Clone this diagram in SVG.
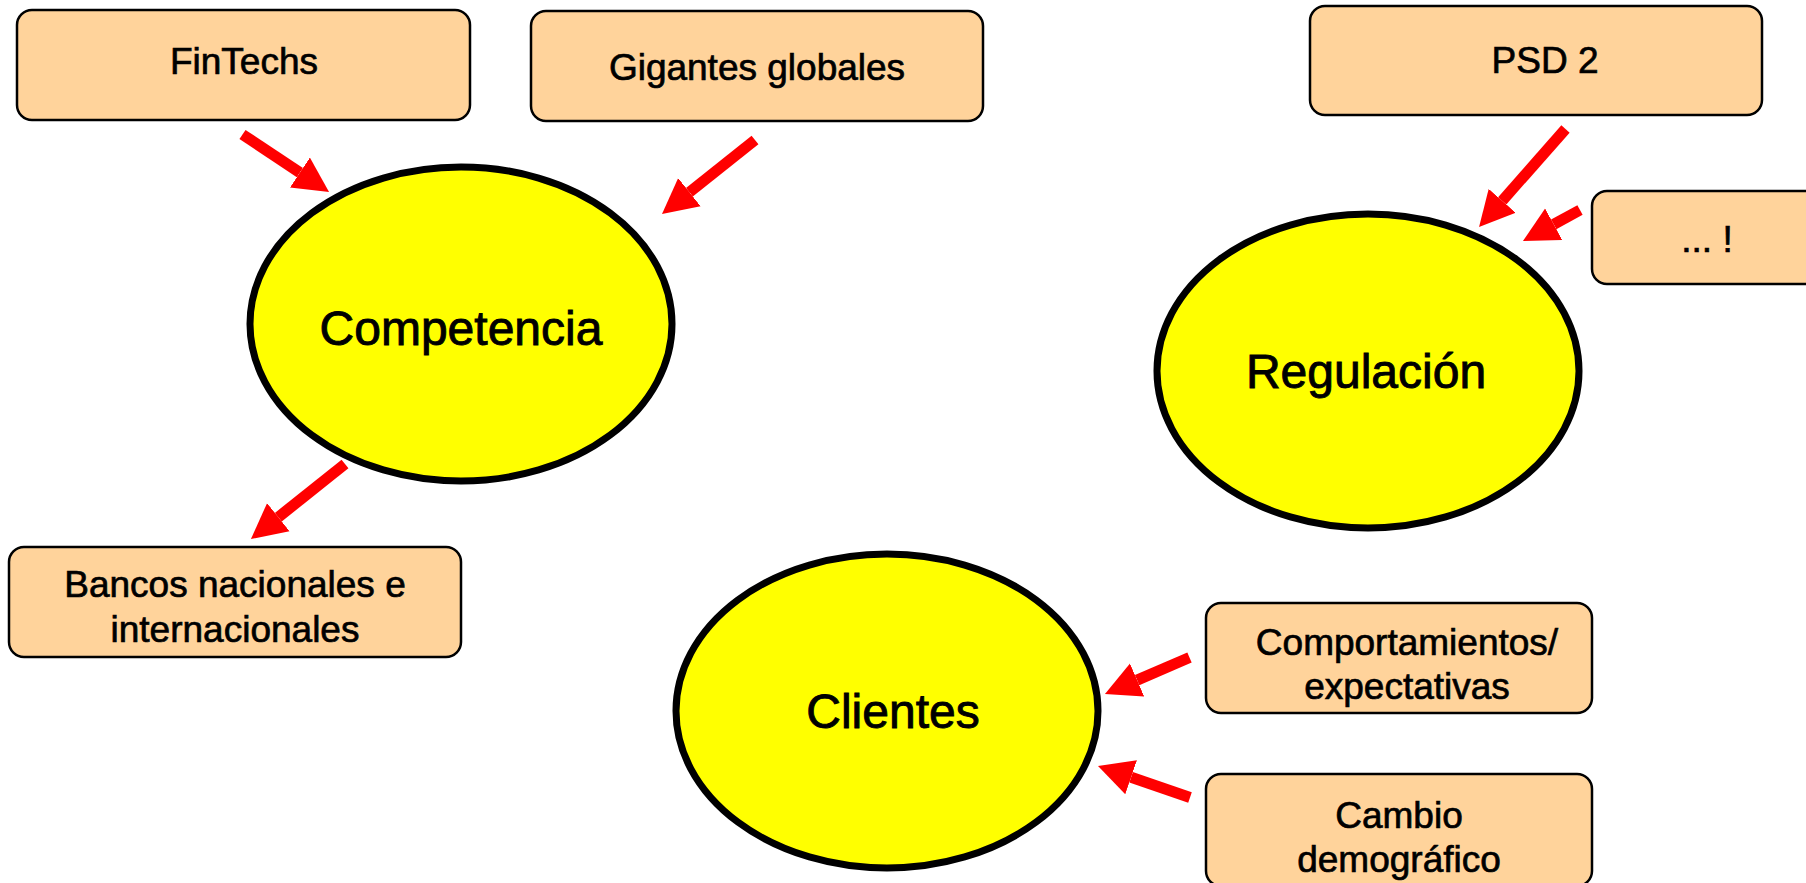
<svg xmlns="http://www.w3.org/2000/svg" width="1806" height="883" viewBox="0 0 1806 883">
<style>
  .box { fill: #FFD39B; stroke: #000; stroke-width: 2.5; }
  .ell { fill: #FFFF00; stroke: #000; stroke-width: 7; }
  .bt { font-family: "Liberation Sans", Arial, sans-serif; font-size: 37px; fill: #000; stroke: #000; stroke-width: 0.7; text-anchor: middle; }
  .et { font-family: "Liberation Sans", Arial, sans-serif; font-size: 48px; fill: #000; stroke: #000; stroke-width: 0.9; text-anchor: middle; }
  .arr { stroke: #FF0000; stroke-width: 11; fill: none; marker-end: url(#head); }
</style>
<defs>
  <marker id="head" markerUnits="userSpaceOnUse" markerWidth="36" markerHeight="37" refX="0" refY="18" orient="auto" viewBox="0 0 36 36">
    <path d="M0,0 L35,18 L0,36 z" fill="#FF0000"/>
  </marker>
</defs>
<rect width="1806" height="883" fill="#fff"/>

<g id="n-competencia">
  <ellipse class="ell" cx="461" cy="324" rx="211" ry="157"/>
  <text class="et" x="461" y="345">Competencia</text>
</g>
<g id="n-regulacion">
  <ellipse class="ell" cx="1368" cy="371" rx="211" ry="157"/>
  <text class="et" x="1366" y="388">Regulación</text>
</g>
<g id="n-clientes">
  <ellipse class="ell" cx="887" cy="711" rx="211" ry="157"/>
  <text class="et" x="893" y="728">Clientes</text>
</g>

<g id="n-fintechs">
  <rect class="box" x="17" y="10" width="453" height="110" rx="15"/>
  <text class="bt" x="244" y="74">FinTechs</text>
</g>
<g id="n-gigantes">
  <rect class="box" x="531" y="11" width="452" height="110" rx="15"/>
  <text class="bt" x="757" y="80">Gigantes globales</text>
</g>
<g id="n-psd2">
  <rect class="box" x="1310" y="6" width="452" height="109" rx="15"/>
  <text class="bt" x="1545" y="73">PSD 2</text>
</g>
<g id="n-otros">
  <rect class="box" x="1592" y="191" width="240" height="93" rx="15"/>
  <text class="bt" x="1707" y="252">... !</text>
</g>
<g id="n-bancos">
  <rect class="box" x="9" y="547" width="452" height="110" rx="15"/>
  <text class="bt" x="235" y="597">Bancos nacionales e</text>
  <text class="bt" x="235" y="642">internacionales</text>
</g>
<g id="n-comportamientos">
  <rect class="box" x="1206" y="603" width="386" height="110" rx="15"/>
  <text class="bt" x="1407" y="655">Comportamientos/</text>
  <text class="bt" x="1407" y="699">expectativas</text>
</g>
<g id="n-cambio">
  <rect class="box" x="1206" y="774" width="386" height="112" rx="15"/>
  <text class="bt" x="1399" y="828">Cambio</text>
  <text class="bt" x="1399" y="872">demográfico</text>
</g>

<g id="connectors">
  <line class="arr" x1="242.5" y1="134.5" x2="299.9" y2="172.6"/>
  <line class="arr" x1="755" y1="140" x2="689.4" y2="192.2"/>
  <line class="arr" x1="345" y1="464" x2="278.3" y2="517.2"/>
  <line class="arr" x1="1565.5" y1="129" x2="1502.2" y2="200.8"/>
  <line class="arr" x1="1580" y1="210" x2="1553.7" y2="224.3"/>
  <line class="arr" x1="1189.5" y1="657.5" x2="1137.1" y2="680.1"/>
  <line class="arr" x1="1190" y1="797.5" x2="1131.1" y2="777.3"/>
</g>
</svg>
